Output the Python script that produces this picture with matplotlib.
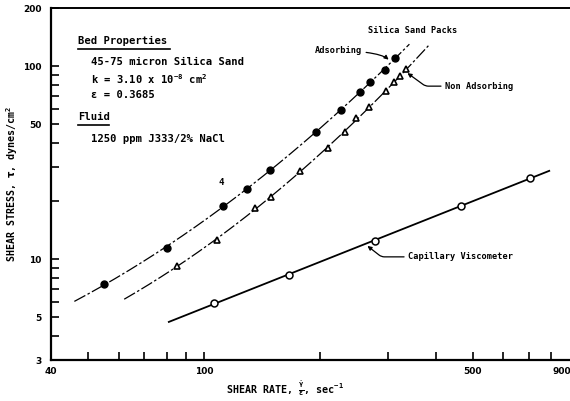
import numpy as np
import matplotlib
matplotlib.use("Agg")
import matplotlib.pyplot as plt
from matplotlib.ticker import NullLocator

plt.rcParams["font.family"] = "DejaVu Sans Mono"
plt.rcParams["font.weight"] = "bold"
plt.rcParams["mathtext.default"] = "regular"

# ── data ──────────────────────────────────────────────────────────────────────
ads_rate   = [55, 80, 112, 129, 148, 196, 227, 255, 270, 295, 313]
ads_stress = [7.4, 11.4, 18.9, 23.0, 29.0, 45.7, 59.0, 73.0, 83.0, 96.0, 110.0]

non_rate   = [85, 108, 136, 149, 178, 210, 232, 249, 269, 297, 312, 324, 336]
non_stress = [9.2, 12.6, 18.3, 21.0, 28.7, 37.5, 45.7, 53.6, 61.5, 74.0, 83.0, 88.7, 96.4]

cap_rate   = [106, 166, 278, 467, 706]
cap_stress = [5.9, 8.3, 12.4, 18.9, 26.4]

# extent of the hand-drawn curves
ads_span = (46, 342)
non_span = (62, 386)
cap_span = (81, 790)

x_ticks  = [40, 50, 60, 70, 80, 90, 100, 200, 300, 400, 500, 600, 700, 800, 900]
x_labels = ["40", "", "", "", "", "", "100", "", "", "", "500", "", "", "", "900"]
y_ticks  = [3, 4, 5, 6, 7, 8, 9, 10, 20, 30, 40, 50, 60, 70, 80, 90, 100, 200]
y_labels = ["3", "", "5", "", "", "", "", "10", "", "", "", "50", "", "", "", "", "100", "200"]


def loglog_fit(x, y, span, deg):
    coef = np.polyfit(np.log10(x), np.log10(y), deg)
    xs = np.logspace(np.log10(span[0]), np.log10(span[1]), 200)
    return xs, 10 ** np.polyval(coef, np.log10(xs))


fig = plt.figure(figsize=(5.7, 4.01), dpi=100)
ax = fig.add_axes([51 / 570, 1 - 360 / 401, 520 / 570, 352 / 401])
ax.set_xscale("log")
ax.set_yscale("log")

# fitted curves through the points
xs, ys = loglog_fit(ads_rate, ads_stress, ads_span, 2)
ax.plot(xs, ys, color="black", lw=0.9, ls=(0, (10, 2, 2, 2)))
xs, ys = loglog_fit(non_rate, non_stress, non_span, 2)
ax.plot(xs, ys, color="black", lw=0.9, ls=(0, (10, 2, 2, 2)))
xs, ys = loglog_fit(cap_rate, cap_stress, cap_span, 1)
ax.plot(xs, ys, color="black", lw=1.3)

ax.plot(ads_rate, ads_stress, "o", ms=5, color="black", mec="black")
ax.plot(non_rate, non_stress, "^", ms=5, mfc="white", mec="black", mew=1.2)
ax.plot(cap_rate, cap_stress, "o", ms=5, mfc="white", mec="black", mew=1.1)

ax.set_xlim(40, 900)
ax.set_ylim(3, 200)

ax.set_xticks(x_ticks, x_labels)
ax.set_yticks(y_ticks, y_labels)
ax.xaxis.set_minor_locator(NullLocator())
ax.yaxis.set_minor_locator(NullLocator())
ax.tick_params(direction="in", length=6, width=1.2, labelsize=6.5)
ax.tick_params(axis="y", pad=7)
ax.tick_params(axis="x", pad=5)
for lbl in ax.get_xticklabels() + ax.get_yticklabels():
    lbl.set_fontfamily("DejaVu Sans")
    lbl.set_fontweight("bold")
# the reference scan clips the last label at the edge; keep it inside
ax.get_xticklabels()[-1].set_horizontalalignment("right")

ax.spines["right"].set_visible(False)
ax.spines["top"].set_linewidth(1.4)
ax.spines["left"].set_linewidth(1.6)
ax.spines["bottom"].set_linewidth(1.6)

ax.set_ylabel(r"SHEAR STRESS, $\mathbf{\tau}$, dynes/cm$^2$", fontsize=7.2, fontweight="bold")
ax.yaxis.set_label_coords(-0.06, 0.5)
ax.set_xlabel(r"SHEAR RATE, $\frac{\dot{\gamma}}{\epsilon}$, sec$^{-1}$", fontsize=7.2, fontweight="bold")
ax.xaxis.set_label_coords(0.45, -0.055)

# ── bed / fluid notes ─────────────────────────────────────────────────────────
note = dict(transform=ax.transAxes, fontsize=7.6, fontweight="bold", va="center", ha="left")
ax.text(0.052, 0.906, "Bed Properties", **note)
ax.plot([0.052, 0.228], [0.884, 0.884], transform=ax.transAxes, color="black", lw=1.2)
ax.text(0.077, 0.847, "45-75 micron Silica Sand", **note)
ax.text(0.077, 0.798, r"k = 3.10 x 10$^{-8}$ cm$^2$", **note)
ax.text(0.077, 0.753, "ε = 0.3685", **note)
ax.text(0.052, 0.690, "Fluid", **note)
ax.plot([0.052, 0.112], [0.668, 0.668], transform=ax.transAxes, color="black", lw=1.2)
ax.text(0.077, 0.628, "1250 ppm J333/2% NaCl", **note)

ax.text(0.327, 0.503, "4", transform=ax.transAxes, fontsize=6.5, fontweight="bold",
        ha="center", va="center")

# ── curve labels ──────────────────────────────────────────────────────────────
lab = dict(fontsize=6.2, fontweight="bold", textcoords="axes fraction", va="center")
ax.text(0.61, 0.935, "Silica Sand Packs", transform=ax.transAxes,
        fontsize=6.2, fontweight="bold", va="center", ha="left")
ax.annotate("Adsorbing", xy=(302, 108), xytext=(0.598, 0.878), ha="right",
            arrowprops=dict(arrowstyle="-|>", lw=0.9, color="black", shrinkA=1, shrinkB=0,
                            mutation_scale=6,
                            connectionstyle="angle3,angleA=0,angleB=-40"), **lab)
ax.annotate("Non Adsorbing", xy=(338, 92), xytext=(0.758, 0.778), ha="left",
            arrowprops=dict(arrowstyle="-|>", lw=0.9, color="black", shrinkA=1, shrinkB=0,
                            mutation_scale=6,
                            connectionstyle="angle,angleA=0,angleB=-36,rad=3"), **lab)
ax.annotate("Capillary Viscometer", xy=(266, 11.7), xytext=(0.687, 0.293), ha="left",
            arrowprops=dict(arrowstyle="-|>", lw=0.9, color="black", shrinkA=1, shrinkB=0,
                            mutation_scale=6,
                            connectionstyle="angle,angleA=0,angleB=-38,rad=3"), **lab)

fig.savefig("out.png", dpi=100)
